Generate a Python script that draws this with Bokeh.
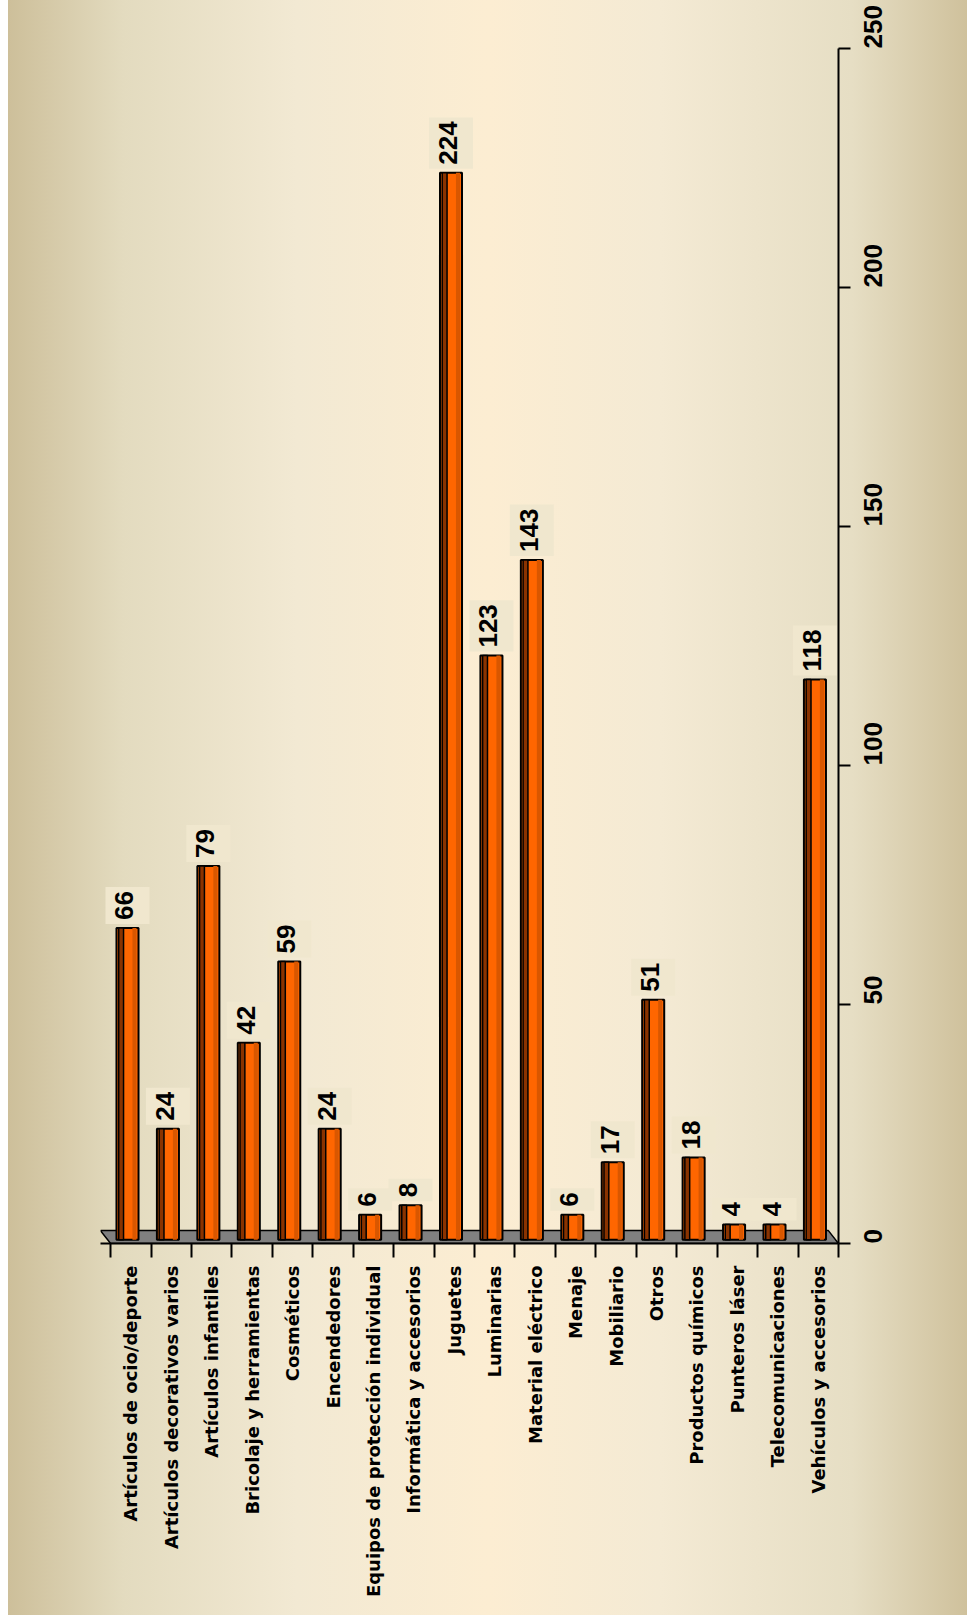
import math
import numpy as np
from bokeh.plotting import figure
from bokeh.models import FixedTicker, Range1d
from bokeh.core.properties import value
from bokeh.embed import file_html
from bokeh.resources import INLINE

# ---- data ----
categories = [
    "Artículos de ocio/deporte",
    "Artículos decorativos varios",
    "Artículos infantiles",
    "Bricolaje y herramientas",
    "Cosméticos",
    "Encendedores",
    "Equipos de protección individual",
    "Informática y accesorios",
    "Juguetes",
    "Luminarias",
    "Material eléctrico",
    "Menaje",
    "Mobiliario",
    "Otros",
    "Productos químicos",
    "Punteros láser",
    "Telecomunicaciones",
    "Vehículos y accesorios",
]
counts = [66, 24, 79, 42, 59, 24, 6, 8, 224, 123, 143, 6, 17, 51, 18, 4, 4, 118]
value_ticks = [0, 50, 100, 150, 200, 250]

# ---- layout ----
n = len(categories)
idx = np.arange(n)
centers = idx + 0.5
bar_x = idx + 0.4175
bar_base = 0.8
floor_depth = 2.7

p = figure(
    width=959, height=1615,
    output_backend="svg", toolbar_location=None,
    x_range=Range1d(-0.25, n), y_range=Range1d(value_ticks[0], value_ticks[-1]),
    y_axis_location="right",
    min_border_left=92, min_border_right=129, min_border_top=48, min_border_bottom=372,
)
p.styles = {
    "margin-left": "8px",
    "background": "linear-gradient(to right, #cdbf9a 0%, #e3dbbf 12%, #f2e9d3 30%, #fcedd2 50%, #f4ead4 68%, #e6dec4 88%, #cfc19c 100%)",
}
p.background_fill_color = None
p.border_fill_color = None
p.outline_line_color = None
p.grid.visible = False

# floor of the 3-D chart
p.patch(x=[-0.25, n - 0.25, n, 0], y=[floor_depth, floor_depth, 0, 0],
        fill_color="#808080", line_color="black", line_width=1.5)

# bars (front face, dark side, shaded edge)
p.vbar(x=bar_x, width=0.545, bottom=bar_base, top=counts,
       fill_color="#ff6600", line_color="black", line_width=2)
p.vbar(x=bar_x - 0.1575, width=0.12, bottom=bar_base, top=counts,
       fill_color="#8a3300", line_color="black", line_width=1.5)
p.vbar(x=bar_x + 0.1725, width=0.1, bottom=bar_base, top=counts,
       fill_color="#d95700", line_color=None)

# value labels
p.text(x=bar_x, y=counts, text=[str(c) for c in counts],
       angle=math.pi / 2, text_align="left", text_baseline="middle",
       y_offset=-4,
       text_font=value("Liberation Sans"), text_font_style="bold",
       text_font_size="26px", text_color="black",
       background_fill_color="#f0e7ce",
       padding=dict(left=4, right=4, top=10, bottom=16))

# value axis (right)
ya = p.yaxis[0]
ya.ticker = FixedTicker(ticks=value_ticks)
ya.axis_line_color = "black"
ya.axis_line_width = 2
ya.major_tick_out = 12
ya.major_tick_in = 0
ya.major_tick_line_width = 2
ya.minor_tick_line_color = None
ya.major_label_orientation = math.pi / 2
ya.major_label_standoff = 22
ya.major_label_text_font = "Liberation Sans"
ya.major_label_text_font_style = "bold"
ya.major_label_text_font_size = "26px"
ya.major_label_text_color = "black"

# category axis (bottom)
xa = p.xaxis[0]
xa.ticker = FixedTicker(ticks=list(centers), minor_ticks=list(np.arange(n + 1)))
xa.major_label_overrides = {float(c): name for c, name in zip(centers, categories)}
xa.axis_line_color = "black"
xa.axis_line_width = 2
xa.major_tick_line_color = None
xa.major_tick_out = 0
xa.major_tick_in = 0
xa.minor_tick_out = 14
xa.minor_tick_in = 0
xa.minor_tick_line_width = 2
xa.minor_tick_line_color = "black"
xa.major_label_orientation = math.pi / 2
xa.major_label_standoff = 8
xa.major_label_text_font = "DejaVu Sans"
xa.major_label_text_font_style = "bold"
xa.major_label_text_font_size = "18px"
xa.major_label_text_color = "black"

open("out.html", "w").write(file_html(p, INLINE))
